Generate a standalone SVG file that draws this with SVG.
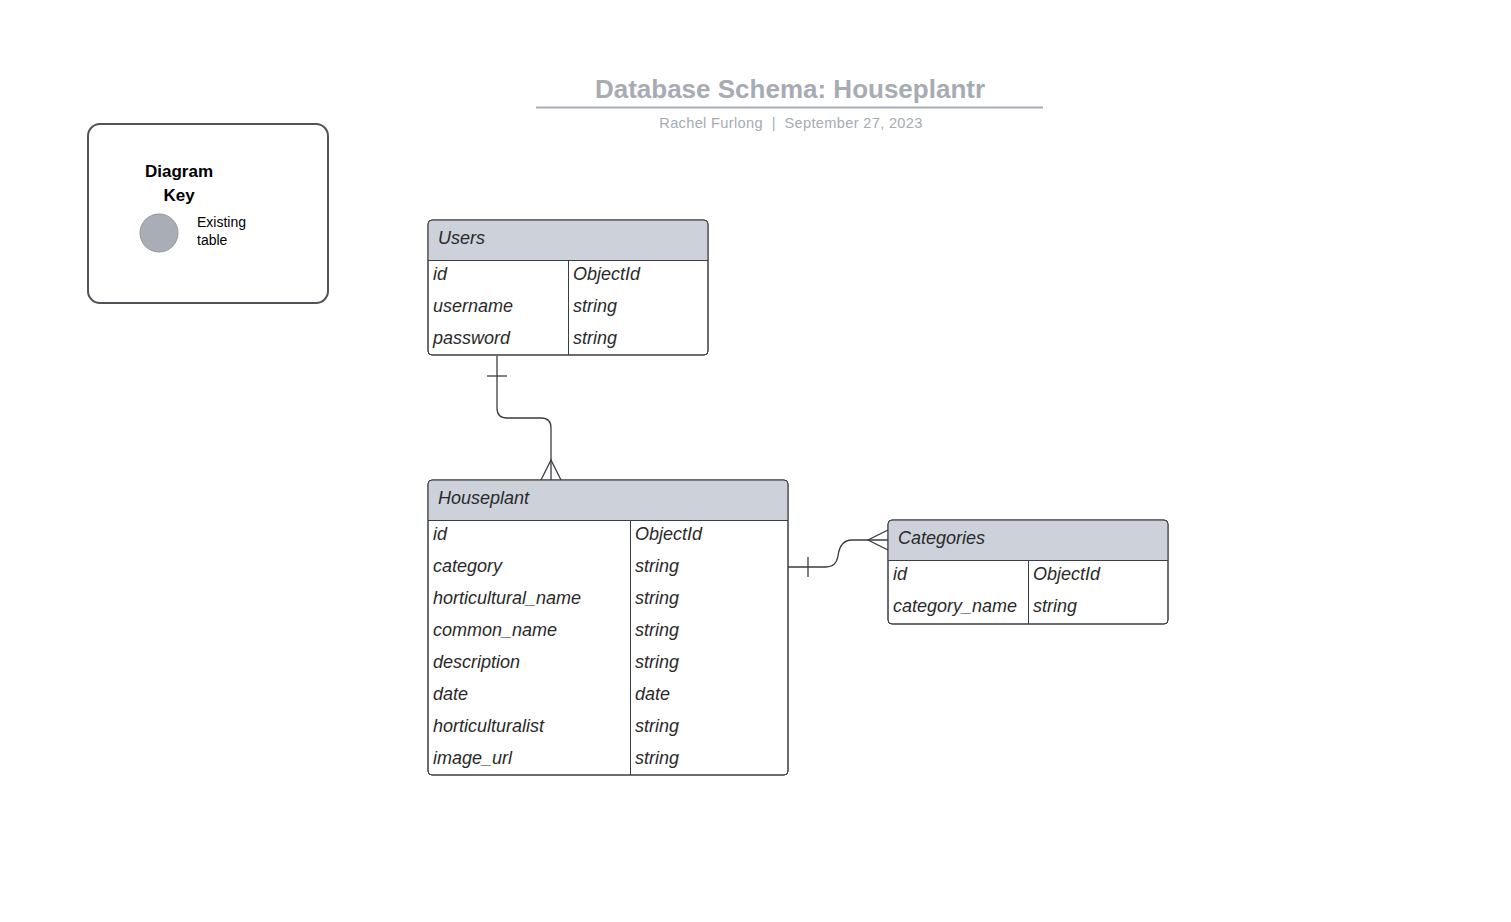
<svg xmlns="http://www.w3.org/2000/svg" width="1511" height="922" viewBox="0 0 1511 922">
<style>
text{font-family:"Liberation Sans",Arial,sans-serif}
.tbl{fill:#ffffff;stroke:#3a3d42;stroke-width:1}
.hdr{fill:#cdd2da}
.hl{stroke:#3a3d42;stroke-width:1}
.cell{font-size:18px;font-style:italic;fill:#2a2a2a}
.conn{fill:none;stroke:#3a3d42;stroke-width:1.3}
</style>
<rect width="1511" height="922" fill="#ffffff"/>
<g id="title">
<text x="790" y="98" text-anchor="middle" font-size="26" font-weight="bold" fill="#a6abb4">Database Schema: Houseplantr</text>
<line x1="536" y1="107.5" x2="1043" y2="107.5" stroke="#a6abb3" stroke-width="2"/>
<text x="791" y="128" text-anchor="middle" font-size="14.6" letter-spacing="0.33" fill="#a6abb4" xml:space="preserve" style="white-space:pre">Rachel Furlong  |  September 27, 2023</text>
</g>
<g id="key">
<rect x="88" y="124" width="240" height="179" rx="12" fill="#ffffff" stroke="#505357" stroke-width="2"/>
<text x="179" y="177" text-anchor="middle" font-size="17" font-weight="bold" fill="#000">Diagram</text>
<text x="179" y="201" text-anchor="middle" font-size="17" font-weight="bold" fill="#000">Key</text>
<circle cx="159" cy="233" r="19" fill="#a9adb5" stroke="#8f939a" stroke-width="1"/>
<text x="197" y="227" font-size="14" fill="#000">Existing</text>
<text x="197" y="245" font-size="14" fill="#000">table</text>
</g>
<g id="connectors">
<path class="conn" d="M497,356 V408 Q497,418 507,418 H541 Q551,418 551,428 V480"/>
<line class="conn" x1="487" y1="376" x2="507" y2="376"/>
<path class="conn" d="M541,480 L551,460 L561,480"/>
<path class="conn" d="M788,567 H826 Q836,567 838,556 Q840,540 852,540 H888"/>
<line class="conn" x1="808" y1="557" x2="808" y2="577"/>
<path class="conn" d="M888,530 L868,540 L888,550"/>
</g>
<g id="users">
<rect class="tbl" x="428" y="220" width="280" height="135" rx="4"/>
<path class="hdr" d="M432,220.5 H704 Q707.5,220.5 707.5,224 V260 H428.5 V224 Q428.5,220.5 432,220.5 Z"/>
<rect x="428" y="220" width="280" height="135" rx="4" fill="none" stroke="#3a3d42"/>
<line class="hl" x1="428" y1="260.5" x2="708" y2="260.5"/>
<line class="hl" x1="568.5" y1="260" x2="568.5" y2="355"/>
<text class="cell" x="438" y="244">Users</text>
<text class="cell" x="433" y="280">id</text><text class="cell" x="573" y="280">ObjectId</text>
<text class="cell" x="433" y="312">username</text><text class="cell" x="573" y="312">string</text>
<text class="cell" x="433" y="344">password</text><text class="cell" x="573" y="344">string</text>
</g>
<g id="houseplant">
<rect class="tbl" x="428" y="480" width="360" height="295" rx="4"/>
<path class="hdr" d="M432,480.5 H784 Q787.5,480.5 787.5,484 V520 H428.5 V484 Q428.5,480.5 432,480.5 Z"/>
<rect x="428" y="480" width="360" height="295" rx="4" fill="none" stroke="#3a3d42"/>
<line class="hl" x1="428" y1="520.5" x2="788" y2="520.5"/>
<line class="hl" x1="630.5" y1="520" x2="630.5" y2="775"/>
<text class="cell" x="438" y="504">Houseplant</text>
<text class="cell" x="433" y="540">id</text><text class="cell" x="635" y="540">ObjectId</text>
<text class="cell" x="433" y="572">category</text><text class="cell" x="635" y="572">string</text>
<text class="cell" x="433" y="604">horticultural_name</text><text class="cell" x="635" y="604">string</text>
<text class="cell" x="433" y="636">common_name</text><text class="cell" x="635" y="636">string</text>
<text class="cell" x="433" y="668">description</text><text class="cell" x="635" y="668">string</text>
<text class="cell" x="433" y="700">date</text><text class="cell" x="635" y="700">date</text>
<text class="cell" x="433" y="732">horticulturalist</text><text class="cell" x="635" y="732">string</text>
<text class="cell" x="433" y="764">image_url</text><text class="cell" x="635" y="764">string</text>
</g>
<g id="categories">
<rect class="tbl" x="888" y="520" width="280" height="104" rx="4"/>
<path class="hdr" d="M892,520.5 H1164 Q1167.5,520.5 1167.5,524 V560 H888.5 V524 Q888.5,520.5 892,520.5 Z"/>
<rect x="888" y="520" width="280" height="104" rx="4" fill="none" stroke="#3a3d42"/>
<line class="hl" x1="888" y1="560.5" x2="1168" y2="560.5"/>
<line class="hl" x1="1028.5" y1="560" x2="1028.5" y2="624"/>
<text class="cell" x="898" y="544">Categories</text>
<text class="cell" x="893" y="580">id</text><text class="cell" x="1033" y="580">ObjectId</text>
<text class="cell" x="893" y="612">category_name</text><text class="cell" x="1033" y="612">string</text>
</g>
</svg>
